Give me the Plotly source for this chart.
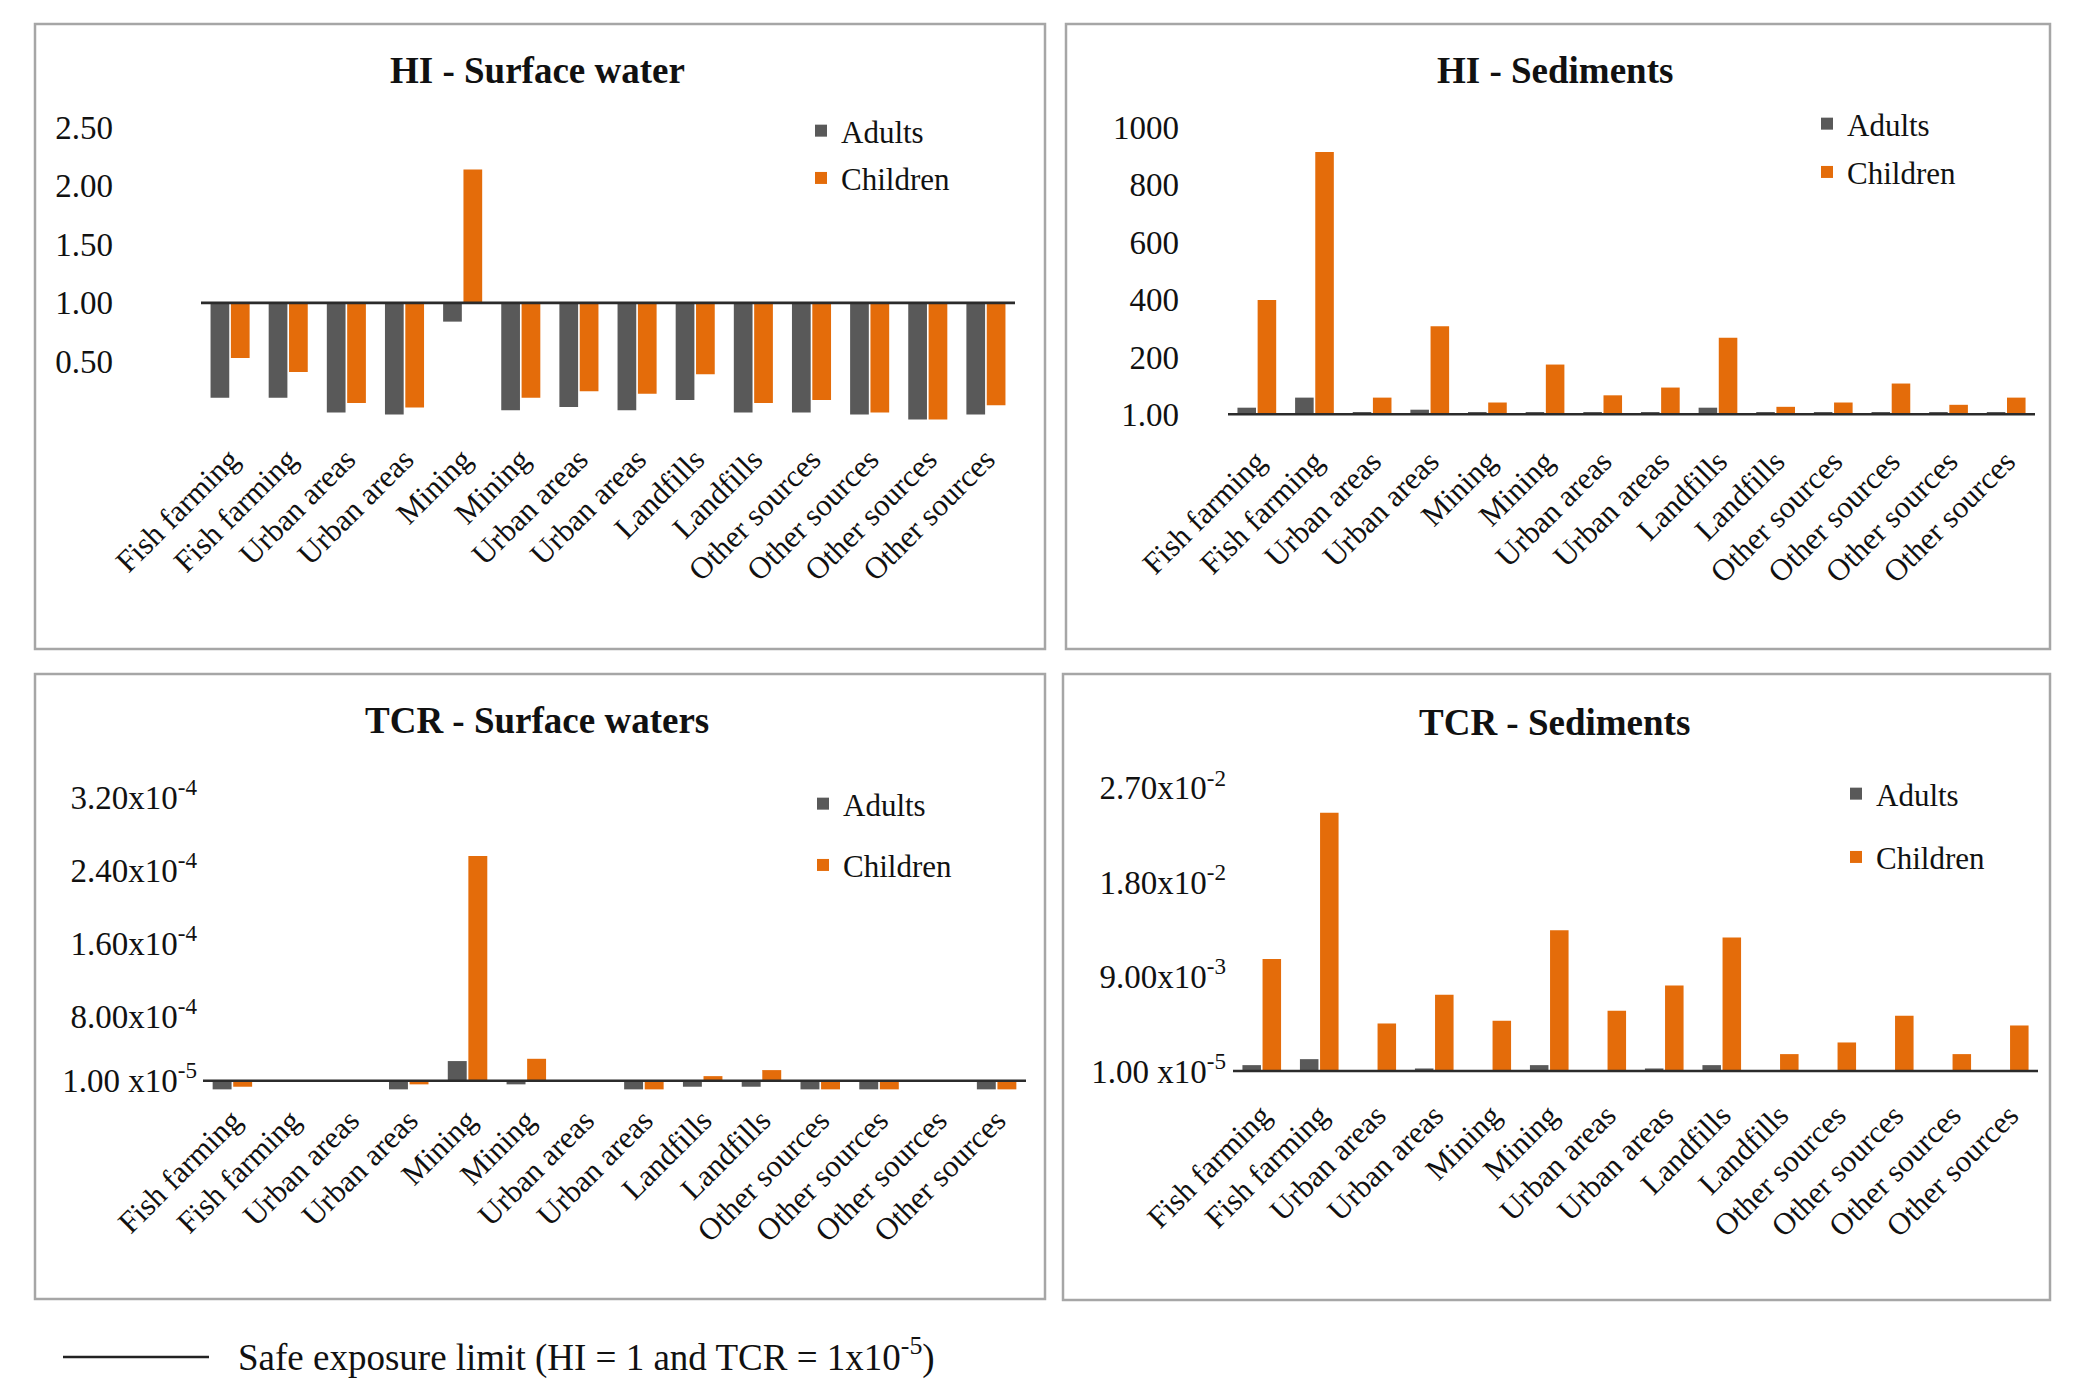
import plotly.graph_objects as go

# ---------------- data ----------------
categories = ["Fish farming", "Fish farming", "Urban areas", "Urban areas", "Mining", "Mining",
              "Urban areas", "Urban areas", "Landfills", "Landfills", "Other sources",
              "Other sources", "Other sources", "Other sources"]

hi_sw_adults = [0.19, 0.19, 0.063, 0.046, 0.84, 0.083, 0.11, 0.083, 0.17, 0.063, 0.063, 0.046, 0.005, 0.046]
hi_sw_children = [0.53, 0.41, 0.146, 0.106, 2.14, 0.19, 0.245, 0.225, 0.39, 0.146, 0.17, 0.063, 0.005, 0.126]

hi_sed_adults = [24, 59, 9, 17, 9, 9, 9, 9, 24, 9, 9, 9, 9, 9]
hi_sed_children = [398, 913, 59, 307, 42, 174, 67, 94, 267, 27, 42, 108, 34, 59]

tcr_sw_adults = [5e-7, 1e-5, 1e-5, 5e-7, 3.15e-5, 6e-6, 1e-5, 5e-7, 3.4e-6, 3.4e-6, 5e-7, 5e-7, 1e-5, 5e-7]
tcr_sw_children = [3.4e-6, 1e-5, 1e-5, 6e-6, 2.56e-4, 3.4e-5, 1e-5, 5e-7, 1.5e-5, 2.16e-5, 5e-7, 5e-7, 1e-5, 5e-7]

tcr_sed_adults = [5.7e-4, 1.14e-3, 1e-5, 2.5e-4, 1e-5, 5.7e-4, 1e-5, 2.5e-4, 5.7e-4, 1e-5, 1e-5, 1e-5, 1e-5, 1e-5]
tcr_sed_children = [0.01068, 0.02463, 4.54e-3, 7.28e-3, 4.8e-3, 0.01344, 5.75e-3, 8.17e-3, 0.01274,
                    1.62e-3, 2.73e-3, 5.28e-3, 1.62e-3, 4.35e-3]

SAFE_HI = 1.0
SAFE_TCR = 1e-5

hi_sw_tickvals = [0.5, 1.0, 1.5, 2.0, 2.5]
hi_sw_ticktext = ["0.50", "1.00", "1.50", "2.00", "2.50"]
hi_sed_tickvals = [1, 200, 400, 600, 800, 1000]
hi_sed_ticktext = ["1.00", "200", "400", "600", "800", "1000"]
tcr_sw_tickvals = [1e-5, 8e-5, 1.6e-4, 2.4e-4, 3.2e-4]
tcr_sw_ticktext = ["1.00 x10<sup>-5</sup>", "8.00x10<sup>-4</sup>", "1.60x10<sup>-4</sup>",
                   "2.40x10<sup>-4</sup>", "3.20x10<sup>-4</sup>"]
tcr_sed_tickvals = [1e-5, 9e-3, 1.8e-2, 2.7e-2]
tcr_sed_ticktext = ["1.00 x10<sup>-5</sup>", "9.00x10<sup>-3</sup>", "1.80x10<sup>-2</sup>",
                    "2.70x10<sup>-2</sup>"]

series_names = ["Adults", "Children"]
footer_text = "Safe exposure limit (HI = 1 and TCR = 1x10<sup>-5</sup>)"

# ---------------- styling / layout ----------------
W, H = 2074, 1379          # browser window
OFF = 8                    # default page margin around the plot
FW, FH = W - OFF, H - OFF  # figure size so that it fits the window


def px2x(px):
    return (px - OFF) / FW


def py2y(py):
    return 1 - (py - OFF) / FH


FONT = "Liberation Serif, Times New Roman, serif"
ADULT_COLOR = "#595959"
CHILD_COLOR = "#E46C0A"
TXT = "#111111"
TICK_SIZE = 33
XTICK_SIZE = 31
LEG_SIZE = 31

panels = [
    dict(title="HI - Surface water", a=hi_sw_adults, c=hi_sw_children, base=SAFE_HI,
         tv=hi_sw_tickvals, tt=hi_sw_ticktext,
         xpx=(201, 1015), ypx=(110, 421), p0=302.9, k=117.07,
         title_xy=(537, 70), leg_xy=(801, 104), gap=4, ystand=87, xstand=13,
         box=(35, 24, 1045, 649)),
    dict(title="HI - Sediments", a=hi_sed_adults, c=hi_sed_children, base=SAFE_HI,
         tv=hi_sed_tickvals, tt=hi_sed_ticktext,
         xpx=(1228, 2035), ypx=(112, 416), p0=414.3, k=0.2876,
         title_xy=(1555, 70), leg_xy=(1807, 97), gap=5, ystand=48, xstand=20,
         box=(1066, 24, 2050, 649)),
    dict(title="TCR - Surface waters", a=tcr_sw_adults, c=tcr_sw_children, base=SAFE_TCR,
         tv=tcr_sw_tickvals, tt=tcr_sw_ticktext,
         xpx=(203, 1026), ypx=(780, 1091), p0=1080.7, k=9.13e5,
         title_xy=(537, 721), leg_xy=(803, 777), gap=18, ystand=5, xstand=4,
         box=(35, 674, 1045, 1299)),
    dict(title="TCR - Sediments", a=tcr_sed_adults, c=tcr_sed_children, base=SAFE_TCR,
         tv=tcr_sed_tickvals, tt=tcr_sed_ticktext,
         xpx=(1233, 2038), ypx=(770, 1073), p0=1071.0, k=10489.0,
         title_xy=(1554, 722), leg_xy=(1836, 767), gap=20, ystand=6, xstand=17,
         box=(1063, 674, 2050, 1300)),
]

fig = go.Figure()
xpos = list(range(len(categories)))
shapes = []
annotations = []
layout = {}

for i, p in enumerate(panels):
    n = "" if i == 0 else str(i + 1)
    xa, ya = "x" + n, "y" + n
    leg = "legend" + n
    for name, vals, col in [(series_names[0], p["a"], ADULT_COLOR), (series_names[1], p["c"], CHILD_COLOR)]:
        fig.add_trace(go.Bar(
            x=xpos, y=[v - p["base"] for v in vals], base=p["base"],
            name=name, marker=dict(color=col, line=dict(width=0)),
            xaxis=xa, yaxis=ya, legend=leg, legendgroup=f"{i}-{name}",
        ))
    x0p, x1p = p["xpx"]
    ytop, ybot = p["ypx"]
    yr = [p["base"] - (ybot - p["p0"]) / p["k"], p["base"] + (p["p0"] - ytop) / p["k"]]
    layout["xaxis" + n] = dict(
        domain=[px2x(x0p), px2x(x1p)], anchor=ya, range=[-0.5, len(categories) - 0.5],
        tickvals=xpos, ticktext=categories, tickangle=-45, showline=False, showgrid=False,
        zeroline=False, ticks="", tickfont=dict(family=FONT, size=XTICK_SIZE, color=TXT),
        ticklabelstandoff=p["xstand"], fixedrange=True, automargin=False,
    )
    layout["yaxis" + n] = dict(
        domain=[py2y(ybot), py2y(ytop)], anchor=xa, range=yr,
        tickvals=p["tv"], ticktext=p["tt"], showline=False, showgrid=False, zeroline=False,
        ticks="", tickfont=dict(family=FONT, size=TICK_SIZE, color=TXT),
        ticklabelstandoff=p["ystand"], fixedrange=True, automargin=False,
    )
    layout[leg] = dict(
        x=px2x(p["leg_xy"][0]), y=py2y(p["leg_xy"][1]), xanchor="left", yanchor="top",
        bgcolor="rgba(0,0,0,0)", borderwidth=0, traceorder="grouped",
        tracegroupgap=p["gap"], itemwidth=30,
        font=dict(family=FONT, size=LEG_SIZE, color=TXT),
    )
    # safe exposure limit line
    shapes.append(dict(type="line", xref=xa + " domain", yref=ya, x0=0, x1=1,
                       y0=p["base"], y1=p["base"], line=dict(color="#2b2b2b", width=2.6)))
    # panel border
    bx0, by0, bx1, by1 = p["box"]
    shapes.append(dict(type="rect", xref="paper", yref="paper", x0=px2x(bx0), x1=px2x(bx1),
                       y0=py2y(by1), y1=py2y(by0), line=dict(color="#A6A6A6", width=2.5),
                       layer="below"))
    annotations.append(dict(text="<b>" + p["title"] + "</b>", xref="paper", yref="paper",
                            x=px2x(p["title_xy"][0]), y=py2y(p["title_xy"][1]),
                            xanchor="center", yanchor="middle", showarrow=False,
                            font=dict(family=FONT, size=37, color=TXT)))

# footer legend for the limit line
shapes.append(dict(type="line", xref="paper", yref="paper", x0=px2x(63), x1=px2x(209),
                   y0=py2y(1357), y1=py2y(1357), line=dict(color="#222222", width=2.5)))
annotations.append(dict(text=footer_text, xref="paper", yref="paper", x=px2x(236), y=py2y(1355),
                        xanchor="left", yanchor="middle", showarrow=False,
                        font=dict(family=FONT, size=37, color=TXT)))

fig.update_layout(
    template="none",
    width=FW, height=FH, margin=dict(l=0, r=0, t=0, b=0, autoexpand=False),
    paper_bgcolor="white", plot_bgcolor="rgba(0,0,0,0)",
    barmode="group", bargap=0.3, bargroupgap=0.08,
    shapes=shapes, annotations=annotations, showlegend=True,
    font=dict(family=FONT, color=TXT),
    **layout,
)

fig.write_html("out.html")
